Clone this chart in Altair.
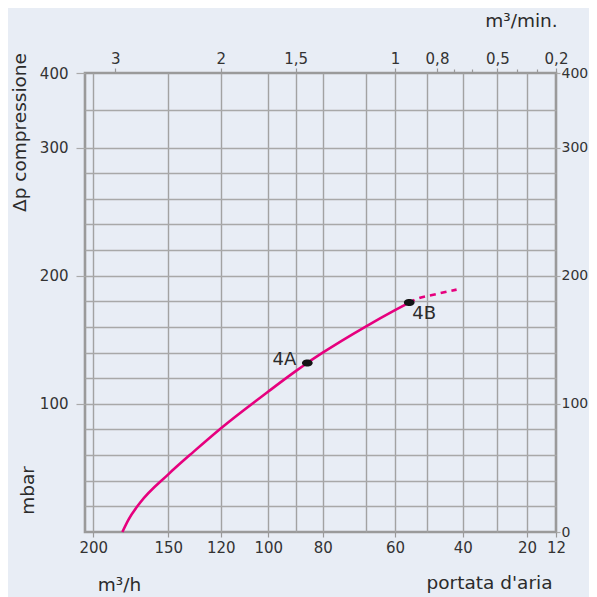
import altair as alt
import pandas as pd

# ---- data (flow in m3/h, pressure in mbar) ----
flow_solid = [176, 172.6, 166, 150, 135.3, 120, 100, 90, 85.7, 80, 70, 60, 55.6]
dp_solid = [0, 9.5, 22.8, 45, 62.9, 80.8, 109.6, 125.5, 131.9, 139.9, 160.3, 173.1, 179]
flow_dash = [55.6, 53.8, 48.2, 41.4]
dp_dash = [179, 181.3, 185.6, 189.1]
point_names = ["4A", "4B"]
point_flow = [85.7, 55.6]
point_dp = [131.9, 179]

# ---- axis ticks / labels ----
bottom_ticks = [200, 150, 120, 100, 80, 60, 40, 20, 12]
top_ticks_m3h = [180, 120, 90, 60, 48, 30, 12]
top_labels = ["3", "2", "1,5", "1", "0,8", "0,5", "0,2"]
top_minor_m3h = [42, 36, 24, 18]
left_ticks = [100, 200, 300, 400]
right_ticks = [0, 100, 200, 300, 400]
grid_x = [200, 150, 120, 100, 90, 80, 70, 60, 50, 40, 30, 20]
grid_y = [20, 40, 60, 80, 100, 120, 140, 160, 180, 200, 220, 240, 260, 280, 300, 350]

# ---- the original's non-linear axes: piecewise scale breakpoints ----
W, H = 471, 459
x_break_val = [207.5, 200, 180, 150, 120, 100, 90, 80, 70, 60, 50, 48, 42, 40, 36, 30, 24, 20, 18, 12]
x_break_pos = [0, 8.3, 30.3, 83.3, 135.7, 183.3, 210.7, 237.7, 280.7, 310, 342.3, 352, 369, 377.7,
               387, 412.3, 432, 442, 452, 471]
y_break_val = [0, 300, 400]
y_break_pos = [459, 74.5, 0]

FONT = "DejaVu Sans"
TXT = "#2b2b2b"
BG = "#e8edf5"
PINK = "#e6007e"

solid = pd.DataFrame({"flow": flow_solid, "dp": dp_solid, "order": range(len(flow_solid))})
dash = pd.DataFrame({"flow": flow_dash, "dp": dp_dash, "order": range(len(flow_dash))})
pts = pd.DataFrame({"name": point_names, "flow": point_flow, "dp": point_dp})

xs = alt.Scale(type="linear", domain=x_break_val, range=x_break_pos, nice=False, zero=False)
ys = alt.Scale(type="linear", domain=y_break_val, range=y_break_pos, nice=False, zero=False)


def ghost(xaxis, yaxis):
    return alt.Chart(pts).mark_point(opacity=0).encode(
        x=alt.X("flow:Q", scale=xs, axis=xaxis),
        y=alt.Y("dp:Q", scale=ys, axis=yaxis),
    )


title_style = dict(titleFont=FONT, titleFontSize=18.5, titleFontWeight="normal", titleColor=TXT)
label_style = dict(labelFont=FONT, labelFontSize=15, labelColor="#333333")

grid_layer = ghost(
    alt.Axis(orient="bottom", values=grid_x, grid=True, labels=False, ticks=False, domain=False,
             title=None, gridColor="#a2a2a2", gridWidth=1.4),
    alt.Axis(orient="left", values=grid_y, grid=True, labels=False, ticks=False, domain=False,
             title=None, gridColor="#a8a8a8", gridWidth=1.4),
)

top_expr = "''"
for v, lab in reversed(list(zip(top_ticks_m3h, top_labels))):
    top_expr = f"datum.value == {v} ? '{lab}' : ({top_expr})"

bottom_axis = ghost(
    alt.Axis(orient="bottom", values=bottom_ticks, grid=False, domain=False, tickSize=5,
             tickColor="#999999", tickWidth=1.2, labelPadding=3, labelFlush=False,
             labelOverlap=False, title="m³/h", titleX=34, titleY=58, titleAlign="center",
             titleBaseline="alphabetic", **label_style, **title_style),
    None,
)
bottom_axis2 = ghost(
    alt.Axis(orient="bottom", values=bottom_ticks, grid=False, domain=False, ticks=False,
             labels=False, title="portata d'aria", titleX=404, titleY=56, titleAlign="center",
             titleBaseline="alphabetic", **title_style),
    None,
)
top_axis = ghost(
    alt.Axis(orient="top", values=top_ticks_m3h, labelExpr=top_expr, grid=False, domain=False,
             tickSize=5, tickColor="#999999", tickWidth=1.2, labelPadding=2, labelFlush=False,
             labelOverlap=False, title="m³/min.", titleX=436, titleY=-47, titleAlign="center",
             titleBaseline="alphabetic", **label_style, **title_style),
    None,
)
top_minor = ghost(
    alt.Axis(orient="top", values=top_minor_m3h, grid=False, domain=False, labels=False,
             tickSize=4, tickColor="#999999", tickWidth=1.2, title=None),
    None,
)
left_axis = ghost(
    None,
    alt.Axis(orient="left", values=left_ticks, grid=False, domain=False, tickSize=9,
             tickColor="#aaaaaa", tickWidth=1.2, labelPadding=8, labelOverlap=False,
             title="Δp compressione", titleAngle=270, titleX=-60, titleY=59, titleAlign="center",
             titleBaseline="alphabetic", **label_style, **title_style),
)
left_axis2 = ghost(
    None,
    alt.Axis(orient="left", values=left_ticks, grid=False, domain=False, ticks=False, labels=False,
             title="mbar", titleAngle=270, titleX=-52, titleY=417, titleAlign="center",
             titleBaseline="alphabetic", **title_style),
)
right_axis = ghost(
    None,
    alt.Axis(orient="right", values=right_ticks, grid=False, domain=False, tickSize=4,
             tickColor="#aaaaaa", tickWidth=1.2, labelPadding=1, labelOverlap=False,
             title=None, labelFont=FONT, labelFontSize=14, labelColor="#333333"),
)

line_solid = alt.Chart(solid).mark_line(color=PINK, strokeWidth=2.6, interpolate="monotone").encode(
    x=alt.X("flow:Q", scale=xs, axis=None),
    y=alt.Y("dp:Q", scale=ys, axis=None),
    order="order:Q",
)
line_dash = alt.Chart(dash).mark_line(color=PINK, strokeWidth=2.6, interpolate="monotone",
                                      strokeDash=[6, 5]).encode(
    x=alt.X("flow:Q", scale=xs, axis=None),
    y=alt.Y("dp:Q", scale=ys, axis=None),
    order="order:Q",
)

ellipse = "M -1 0 A 1 0.65 0 1 1 1 0 A 1 0.65 0 1 1 -1 0 Z"
dots = alt.Chart(pts).mark_point(filled=True, shape=ellipse, size=115, color="#151515",
                                 opacity=1).encode(
    x=alt.X("flow:Q", scale=xs, axis=None),
    y=alt.Y("dp:Q", scale=ys, axis=None),
)
lab_a = alt.Chart(pts).transform_filter(alt.datum.name == "4A").mark_text(
    font=FONT, fontSize=18, color=TXT, align="right", baseline="middle", dx=-11, dy=-3
).encode(
    x=alt.X("flow:Q", scale=xs, axis=None),
    y=alt.Y("dp:Q", scale=ys, axis=None),
    text="name:N",
)
lab_b = alt.Chart(pts).transform_filter(alt.datum.name == "4B").mark_text(
    font=FONT, fontSize=18, color=TXT, align="left", baseline="middle", dx=3, dy=11
).encode(
    x=alt.X("flow:Q", scale=xs, axis=None),
    y=alt.Y("dp:Q", scale=ys, axis=None),
    text="name:N",
)

chart = alt.layer(
    grid_layer, line_solid, line_dash, dots, lab_a, lab_b,
    bottom_axis, bottom_axis2, top_axis, top_minor, left_axis, left_axis2, right_axis,
).resolve_axis(
    x="independent", y="independent"
).properties(
    width=W, height=H,
    background=BG,
    autosize=alt.AutoSizeParams(type="none"),
    padding={"left": 77, "top": 65, "right": 33, "bottom": 65},
).configure_view(
    stroke="#9a9a9a", strokeWidth=2.6
)

chart.save("out.html", embed_options={"renderer": "svg", "actions": False})
